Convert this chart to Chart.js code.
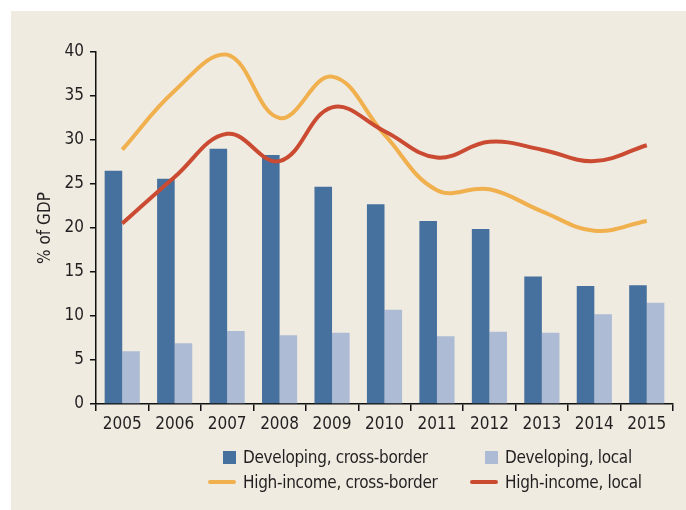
<!DOCTYPE html>
<html>
<head>
<meta charset="utf-8">
<script src="https://cdn.jsdelivr.net/npm/chart.js@4/dist/chart.umd.min.js"></script>
<style>
  body { margin: 0; background: #fff; width: 686px; height: 510px; overflow: hidden; }
  #panel { position: absolute; left: 11px; top: 11px; width: 675px; height: 499px; background: #efebe1; }
  #grafico { position: absolute; left: 0; top: 0; }
  #legenda {
    position: absolute; left: 197px; top: 434px;
    display: grid; grid-template-columns: 262px 200px; row-gap: 1px;
    font-family: "DejaVu Sans Condensed", "Liberation Sans Narrow", sans-serif;
    font-size: 17px; letter-spacing: -0.3px; color: #231f20;
  }
  .item { display: flex; align-items: center; height: 24px; }
  .marca { width: 28px; display: flex; justify-content: flex-end; margin-right: 7px; }
</style>
</head>
<body>
<div id="panel">
  <canvas id="grafico" width="675" height="499"></canvas>
  <div id="legenda"></div>
</div>
<script>
const anos = ['2005', '2006', '2007', '2008', '2009', '2010', '2011', '2012', '2013', '2014', '2015'];

const devCross = [26.5, 25.6, 29.0, 28.3, 24.7, 22.7, 20.8, 19.9, 14.5, 13.4, 13.5];
const devLocal = [6.0, 6.9, 8.3, 7.8, 8.1, 10.7, 7.7, 8.2, 8.1, 10.2, 11.5];
const highCross = [28.9, 35.6, 39.7, 32.5, 37.2, 30.6, 24.3, 24.4, 21.9, 19.7, 20.8];
const highLocal = [20.5, 25.8, 30.7, 27.6, 33.7, 31.0, 28.0, 29.8, 28.9, 27.6, 29.4];

const yTicks = [0, 5, 10, 15, 20, 25, 30, 35, 40];

const FONTE = '"DejaVu Sans Condensed", "Liberation Sans Narrow", sans-serif';

const datasets = [
  {
    type: 'bar',
    label: 'Developing, cross-border',
    data: devCross,
    backgroundColor: '#46709e',
    categoryPercentage: 0.67,
    barPercentage: 1,
    order: 2
  },
  {
    type: 'bar',
    label: 'Developing, local',
    data: devLocal,
    backgroundColor: '#adbbd5',
    categoryPercentage: 0.67,
    barPercentage: 1,
    order: 2
  },
  {
    type: 'line',
    label: 'High-income, cross-border',
    data: highCross,
    borderColor: '#f1b04e',
    borderWidth: 4,
    tension: 0.4,
    pointRadius: 0,
    fill: false,
    order: 1
  },
  {
    type: 'line',
    label: 'High-income, local',
    data: highLocal,
    borderColor: '#cb4a32',
    borderWidth: 4,
    tension: 0.4,
    pointRadius: 0,
    fill: false,
    order: 0
  }
];

new Chart(document.getElementById('grafico').getContext('2d'), {
  data: { labels: anos, datasets },
  options: {
    responsive: false,
    animation: false,
    layout: { padding: { top: 41, right: 13, left: 0, bottom: 0 } },
    plugins: {
      legend: { display: false },
      tooltip: { enabled: false }
    },
    scales: {
      x: {
        offset: true,
        afterFit: s => { s.height = 106; },
        border: { color: '#111', width: 1.5 },
        grid: {
          offset: true,
          drawOnChartArea: false,
          drawTicks: true,
          tickLength: 7,
          color: '#111',
          lineWidth: 1.5
        },
        ticks: {
          color: '#231f20',
          padding: 3,
          font: { family: FONTE, size: 17 }
        }
      },
      y: {
        min: 0,
        max: 40,
        afterFit: s => { s.width = 85; },
        afterBuildTicks: s => { s.ticks = yTicks.map(v => ({ value: v })); },
        border: { color: '#111', width: 1.5 },
        grid: {
          drawOnChartArea: false,
          tickLength: 6,
          color: '#111',
          lineWidth: 1.5
        },
        ticks: {
          color: '#231f20',
          padding: 6,
          font: { family: FONTE, size: 17 }
        },
        title: {
          display: true,
          text: '% of GDP',
          color: '#231f20',
          padding: { top: 24, bottom: 0 },
          font: { family: FONTE, size: 17 }
        }
      }
    }
  }
});

// LEGENDA (duas colunas como no original)
const legenda = document.getElementById('legenda');
datasets.forEach(d => {
  const item = document.createElement('div');
  item.className = 'item';
  const marca = document.createElement('div');
  marca.className = 'marca';
  const simbolo = document.createElement('span');
  if (d.type === 'bar') {
    simbolo.style.cssText = `width:13px;height:13px;background:${d.backgroundColor};`;
  } else {
    simbolo.style.cssText = `width:28px;height:4px;border-radius:2px;background:${d.borderColor};`;
  }
  marca.appendChild(simbolo);
  const texto = document.createElement('span');
  texto.textContent = d.label;
  item.append(marca, texto);
  legenda.appendChild(item);
});
</script>
</body>
</html>
